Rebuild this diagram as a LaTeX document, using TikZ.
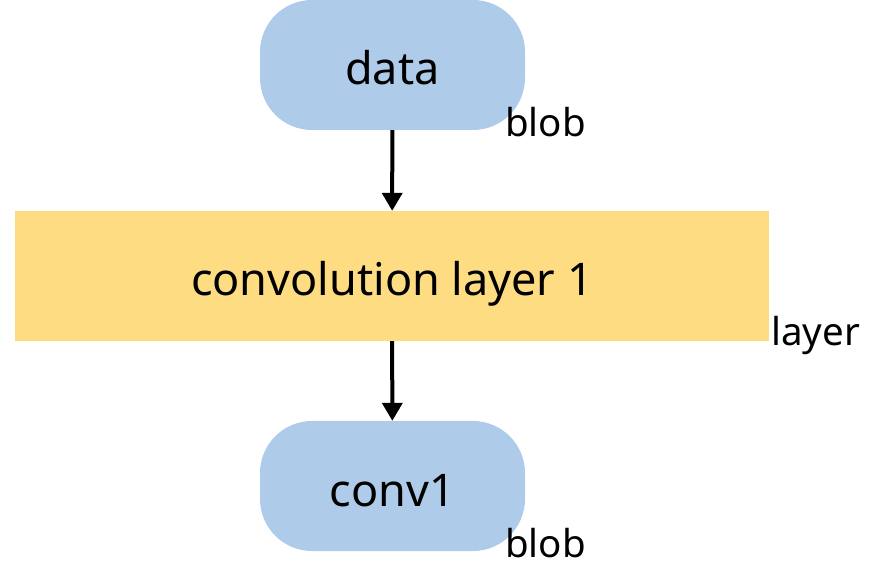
\documentclass[tikz,border=0pt]{standalone}
\usepackage{fontspec}
\setmainfont{Noto Sans}
\usetikzlibrary{arrows.meta}
\definecolor{blobfill}{HTML}{AECCEA}
\definecolor{layerfill}{HTML}{FDDC82}
\begin{document}
\begin{tikzpicture}[x=1pt,y=-1pt,
  boxtext/.style={font=\fontsize{45}{54}\selectfont, text height=40pt, text depth=0pt},
  blobbox/.style={boxtext, fill=blobfill, rounded corners=52pt, minimum width=265pt, minimum height=130pt, inner sep=0pt},
  layerbox/.style={boxtext, fill=layerfill, minimum width=754pt, minimum height=130pt, inner sep=0pt},
  tag/.style={anchor=base west, inner sep=0pt, font=\fontsize{38.5}{46}\selectfont},
  flow/.style={line width=4pt, -{Triangle[width=20pt,length=18pt]}}]
  \useasboundingbox (0,0) rectangle (871,569);
  \node[blobbox] (data) at (392.5,65) {data};
  \node[layerbox] (conv) at (392,276) {convolution layer 1};
  \node[blobbox] (conv1) at (392.5,486) {conv1};
  \node[tag] (datatag) at (505,137) {blob};
  \node[tag] (convtag) at (771,346) {layer};
  \node[tag] (conv1tag) at (505,557) {blob};
  \draw[flow] (data) -- (conv);
  \draw[flow] (conv) -- (conv1);
\end{tikzpicture}
\end{document}
